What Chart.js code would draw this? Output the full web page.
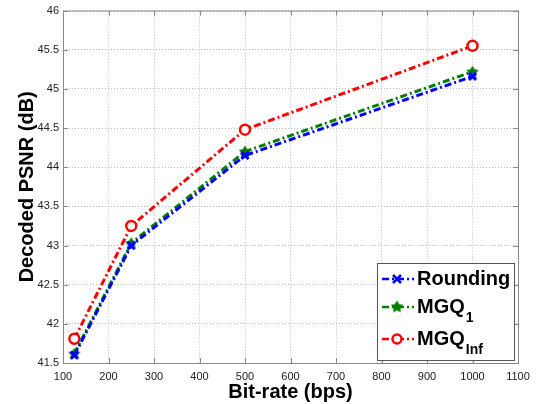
<!DOCTYPE html>
<html lang="en">
<head>
<meta charset="UTF-8">
<title>PSNR vs bit-rate</title>
<script src="https://cdn.jsdelivr.net/npm/chart.js"></script>
<style>
  html, body { margin: 0; padding: 0; background: #fff; }
  #wrap { width: 537px; height: 404px; position: relative; }
</style>
</head>
<body>
<div id="wrap"><canvas id="myChart"></canvas></div>
<script>
    // values
    const bitRates = [125, 250, 500, 1000]
    const rounding = [41.6, 43.0, 44.15, 45.16]
    const mgq1 = [41.62, 43.03, 44.2, 45.22]
    const mgqInf = [41.81, 43.25, 44.48, 45.55]
    const seriesNames = ['Rounding', 'MGQ', 'MGQ']
    const seriesSubs = ['', '1', 'Inf']

    const dashDot = [7, 3, 2, 3]
    const fontFam = '"Liberation Sans", Arial, sans-serif'

    // filled green star marker
    function starMarker(color) {
        const c = document.createElement('canvas')
        c.width = 14; c.height = 14
        const g = c.getContext('2d')
        g.fillStyle = color
        g.beginPath()
        for (let i = 0; i < 10; i++) {
            const r = i % 2 === 0 ? 6.5 : 3.6
            const a = -Math.PI / 2 + i * Math.PI / 5
            const px = 7 + r * Math.cos(a), py = 7.5 + r * Math.sin(a)
            if (i === 0) g.moveTo(px, py); else g.lineTo(px, py)
        }
        g.closePath(); g.fill()
        return c
    }
    const greenStar = starMarker('#007f00')

    function toXY(ys) {
        return bitRates.map((x, i) => ({ x: x, y: ys[i] }))
    }

    // box + inward ticks like matlab
    const boxPlugin = {
        id: 'box',
        afterDraw(chart) {
            const { ctx, chartArea: a, scales } = chart
            ctx.save()
            ctx.strokeStyle = '#888'
            ctx.lineWidth = 1
            ctx.strokeRect(a.left + 0.5, a.top + 0.5, a.right - a.left, a.bottom - a.top)
            ctx.beginPath()
            scales.x.ticks.forEach(t => {
                const px = Math.round(scales.x.getPixelForValue(t.value)) + 0.5
                ctx.moveTo(px, a.bottom); ctx.lineTo(px, a.bottom - 5)
                ctx.moveTo(px, a.top); ctx.lineTo(px, a.top + 5)
            })
            scales.y.ticks.forEach(t => {
                const py = Math.round(scales.y.getPixelForValue(t.value)) + 0.5
                ctx.moveTo(a.left, py); ctx.lineTo(a.left + 5, py)
                ctx.moveTo(a.right, py); ctx.lineTo(a.right - 5, py)
            })
            ctx.stroke()
            ctx.restore()
        }
    }

    // legend with subscripts, bottom right inside the plot
    const legendPlugin = {
        id: 'subLegend',
        afterDraw(chart) {
            const { ctx, chartArea: a } = chart
            const bx = a.right - 141, by = a.bottom - 100, bw = 137, bh = 97
            ctx.save()
            ctx.fillStyle = '#fff'
            ctx.fillRect(bx, by, bw, bh)
            ctx.strokeStyle = '#555'
            ctx.lineWidth = 1
            ctx.strokeRect(bx + 0.5, by + 0.5, bw, bh)
            const rows = [16, 44, 76]
            chart.data.datasets.forEach((ds, i) => {
                const ly = by + rows[i]
                ctx.strokeStyle = ds.borderColor
                ctx.lineWidth = 2.5
                ctx.setLineDash(dashDot)
                ctx.beginPath(); ctx.moveTo(bx + 5, ly); ctx.lineTo(bx + 37, ly); ctx.stroke()
                ctx.setLineDash([])
                const mx = bx + 20
                if (i === 0) {
                    ctx.lineWidth = 2.5
                    ctx.beginPath()
                    ctx.moveTo(mx - 4, ly - 4); ctx.lineTo(mx + 4, ly + 4)
                    ctx.moveTo(mx + 4, ly - 4); ctx.lineTo(mx - 4, ly + 4)
                    ctx.stroke()
                } else if (i === 1) {
                    ctx.drawImage(greenStar, mx - 7, ly - 7.5)
                } else {
                    ctx.fillStyle = '#fff'
                    ctx.lineWidth = 2.5
                    ctx.beginPath(); ctx.arc(mx, ly, 4.5, 0, Math.PI * 2); ctx.fill(); ctx.stroke()
                }
                ctx.fillStyle = '#000'
                ctx.textBaseline = 'middle'
                ctx.font = 'bold 20px ' + fontFam
                ctx.fillText(seriesNames[i], bx + 40, ly)
                if (seriesSubs[i]) {
                    const w = ctx.measureText(seriesNames[i]).width
                    ctx.font = 'bold 14px ' + fontFam
                    ctx.fillText(seriesSubs[i], bx + 41 + w, ly + 11)
                }
            })
            ctx.restore()
        }
    }

    function creatChart() {
        const ctx = document.getElementById('myChart')
        Chart.defaults.font.family = fontFam
        Chart.defaults.color = '#222'
        new Chart(ctx, {
            type: 'line',
            data: {
                datasets: [{
                    label: 'Rounding',
                    data: toXY(rounding),
                    borderColor: '#0000ff',
                    backgroundColor: '#0000ff',
                    borderWidth: 3,
                    borderDash: dashDot,
                    pointStyle: 'crossRot',
                    pointRadius: 5,
                    pointBorderWidth: 3
                }, {
                    label: 'MGQ1',
                    data: toXY(mgq1),
                    borderColor: '#007f00',
                    backgroundColor: '#007f00',
                    borderWidth: 3,
                    borderDash: dashDot,
                    pointStyle: greenStar
                }, {
                    label: 'MGQInf',
                    data: toXY(mgqInf),
                    borderColor: '#ff0000',
                    backgroundColor: '#ffffff',
                    borderWidth: 3,
                    borderDash: dashDot,
                    pointStyle: 'circle',
                    pointRadius: 5,
                    pointBorderWidth: 2.5
                }]
            },
            options: {
                responsive: true,
                maintainAspectRatio: false,
                animation: false,
                layout: { padding: { top: 6, right: 19, left: 4, bottom: 0 } },
                plugins: { legend: { display: false }, tooltip: { enabled: false } },
                scales: {
                    x: {
                        type: 'linear',
                        min: 100, max: 1100,
                        ticks: { stepSize: 100, font: { size: 11 }, padding: 7, maxRotation: 0, callback: v => String(v) },
                        grid: { color: '#bdbdbd', drawTicks: false },
                        border: { display: false, dash: [1, 2] },
                        title: { display: true, text: 'Bit-rate (bps)', font: { size: 20, weight: 'bold' }, color: '#000', padding: { top: 0, bottom: 0 } },
                        afterFit(axis) { axis.height = 41 }
                    },
                    y: {
                        min: 41.5, max: 46,
                        ticks: { stepSize: 0.5, font: { size: 11 }, padding: 4, callback: v => String(v) },
                        grid: { color: '#bdbdbd', drawTicks: false },
                        border: { display: false, dash: [1, 2] },
                        title: { display: true, text: 'Decoded PSNR (dB)', font: { size: 20, weight: 'bold' }, color: '#000', padding: { top: 11, bottom: 0 } },
                        afterFit(axis) { axis.width = 59 }
                    }
                }
            },
            plugins: [boxPlugin, legendPlugin]
        })
    }
    creatChart()
</script>
</body>
</html>
